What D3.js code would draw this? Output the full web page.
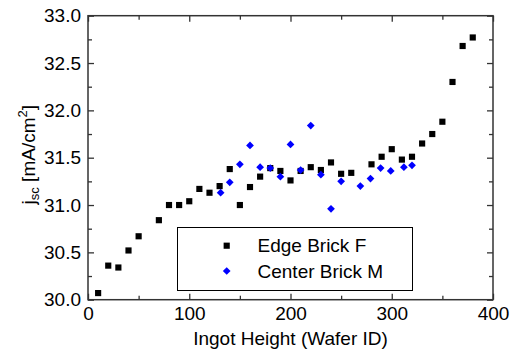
<!DOCTYPE html>
<html>
<head>
<meta charset="utf-8">
<script src="https://cdn.jsdelivr.net/npm/d3@7"></script>
<style>
  html, body { margin: 0; padding: 0; background: #fff; }
  svg { display: block; font-family: "Liberation Sans", Arial, sans-serif; }
</style>
</head>
<body>
<svg id="chart" width="516" height="354"></svg>
<script>
// Short-circuit current density along the ingot
const edgeHeight = [10, 20, 30, 40, 50, 70, 80, 90, 100, 110, 120, 130, 140, 150, 160, 170, 180, 190, 200, 210, 220, 230, 240, 250, 260, 280, 290, 300, 310, 320, 330, 340, 350, 360, 370, 380];
const edgeJsc = [30.07, 30.36, 30.34, 30.52, 30.67, 30.84, 31.00, 31.00, 31.04, 31.17, 31.13, 31.20, 31.38, 31.00, 31.19, 31.30, 31.39, 31.36, 31.26, 31.36, 31.40, 31.37, 31.45, 31.33, 31.34, 31.43, 31.51, 31.59, 31.48, 31.51, 31.65, 31.75, 31.88, 32.30, 32.68, 32.77];

const centerHeight = [131, 140, 150, 160, 170, 180, 190, 200, 210, 220, 230, 240, 250, 269, 279, 289, 299, 312, 320];
const centerJsc = [31.13, 31.24, 31.43, 31.63, 31.40, 31.39, 31.30, 31.64, 31.37, 31.84, 31.32, 30.96, 31.25, 31.20, 31.28, 31.39, 31.36, 31.40, 31.42];

const xTicks = [0, 100, 200, 300, 400];
const xMinorTicks = [50, 150, 250, 350];
const yTicks = [30.0, 30.5, 31.0, 31.5, 32.0, 32.5, 33.0];
const yMinorTicks = [30.25, 30.75, 31.25, 31.75, 32.25, 32.75];
const seriesNames = ["Edge Brick F", "Center Brick M"];

const svg = d3.select("#chart");
const plotL = 88, plotR = 493, plotT = 15.7, plotB = 299.7;
const x = d3.scaleLinear().domain([0, 400]).range([plotL, plotR]);
const y = d3.scaleLinear().domain([30, 33]).range([plotB, plotT]);

const axisColor = "#333";
const fontSize = 19;

// Axes: ticks point inward; mirrored on top and right
function styleAxis(g) {
  g.select(".domain").remove();
  g.selectAll(".tick line").attr("stroke", axisColor).attr("stroke-width", 1.3);
  g.selectAll(".tick text").attr("fill", "#000").attr("font-size", fontSize).attr("font-family", "Liberation Sans, Arial, sans-serif");
}

const bottomAxis = d3.axisBottom(x).tickValues(xTicks).tickFormat(d3.format("d")).tickSizeInner(-6).tickSizeOuter(0).tickPadding(7);
svg.append("g").attr("transform", `translate(0,${plotB})`).call(bottomAxis).call(styleAxis);
svg.append("g").attr("transform", `translate(0,${plotB})`)
  .call(d3.axisBottom(x).tickValues(xMinorTicks).tickFormat("").tickSizeInner(-4).tickSizeOuter(0)).call(styleAxis);

svg.append("g").attr("transform", `translate(0,${plotT})`)
  .call(d3.axisTop(x).tickValues(xTicks).tickFormat("").tickSizeInner(-6).tickSizeOuter(0)).call(styleAxis);
svg.append("g").attr("transform", `translate(0,${plotT})`)
  .call(d3.axisTop(x).tickValues(xMinorTicks).tickFormat("").tickSizeInner(-4).tickSizeOuter(0)).call(styleAxis);

const leftAxis = d3.axisLeft(y).tickValues(yTicks).tickFormat(d3.format(".1f")).tickSizeInner(-6).tickSizeOuter(0).tickPadding(7);
svg.append("g").attr("transform", `translate(${plotL},0)`).call(leftAxis).call(styleAxis);
svg.append("g").attr("transform", `translate(${plotL},0)`)
  .call(d3.axisLeft(y).tickValues(yMinorTicks).tickFormat("").tickSizeInner(-4).tickSizeOuter(0)).call(styleAxis);

svg.append("g").attr("transform", `translate(${plotR},0)`)
  .call(d3.axisRight(y).tickValues(yTicks).tickFormat("").tickSizeInner(-6).tickSizeOuter(0)).call(styleAxis);
svg.append("g").attr("transform", `translate(${plotR},0)`)
  .call(d3.axisRight(y).tickValues(yMinorTicks).tickFormat("").tickSizeInner(-4).tickSizeOuter(0)).call(styleAxis);

// Frame
svg.append("rect")
  .attr("x", plotL).attr("y", plotT)
  .attr("width", plotR - plotL).attr("height", plotB - plotT)
  .attr("fill", "none").attr("stroke", axisColor).attr("stroke-width", 1.5);

// Axis titles
svg.append("text")
  .attr("x", (plotL + plotR) / 2).attr("y", 345)
  .attr("text-anchor", "middle").attr("font-size", fontSize)
  .text("Ingot Height (Wafer ID)");

const yTitle = svg.append("text")
  .attr("transform", `translate(35,${(plotT + plotB) / 2 - 3}) rotate(-90)`)
  .attr("text-anchor", "middle").attr("font-size", fontSize);
yTitle.append("tspan").text("j");
yTitle.append("tspan").attr("font-size", 13).attr("dy", 4).text("sc");
yTitle.append("tspan").attr("dy", -4).text(" [mA/cm");
yTitle.append("tspan").attr("font-size", 13).attr("dy", -8).text("2");
yTitle.append("tspan").attr("dy", 8).text("]");

// Markers: filled squares, and squares turned 45° for diamonds
const square = d3.symbol().type(d3.symbolSquare).size(38);
const diamond = d3.symbol().type(d3.symbolSquare).size(30);

svg.append("g").selectAll("path")
  .data(d3.zip(edgeHeight, edgeJsc))
  .join("path")
  .attr("d", square)
  .attr("transform", d => `translate(${x(d[0])},${y(d[1])})`)
  .attr("fill", "#000");

svg.append("g").selectAll("path")
  .data(d3.zip(centerHeight, centerJsc))
  .join("path")
  .attr("d", diamond)
  .attr("transform", d => `translate(${x(d[0])},${y(d[1])}) rotate(45)`)
  .attr("fill", "#0000ff");

// Legend
const legend = svg.append("g");
legend.append("rect")
  .attr("x", 177.5).attr("y", 227.5).attr("width", 235).attr("height", 63)
  .attr("fill", "#fff").attr("stroke", "#000").attr("stroke-width", 1);
const legendRows = [
  { name: seriesNames[0], sym: square, color: "#000", cy: 245.7, rot: 0 },
  { name: seriesNames[1], sym: diamond, color: "#0000ff", cy: 271, rot: 45 }
];
legendRows.forEach(r => {
  legend.append("path").attr("d", r.sym).attr("fill", r.color)
    .attr("transform", `translate(226.7,${r.cy}) rotate(${r.rot})`);
  legend.append("text").attr("x", 257.5).attr("y", r.cy + 6.5)
    .attr("font-size", fontSize).text(r.name);
});
</script>
</body>
</html>
